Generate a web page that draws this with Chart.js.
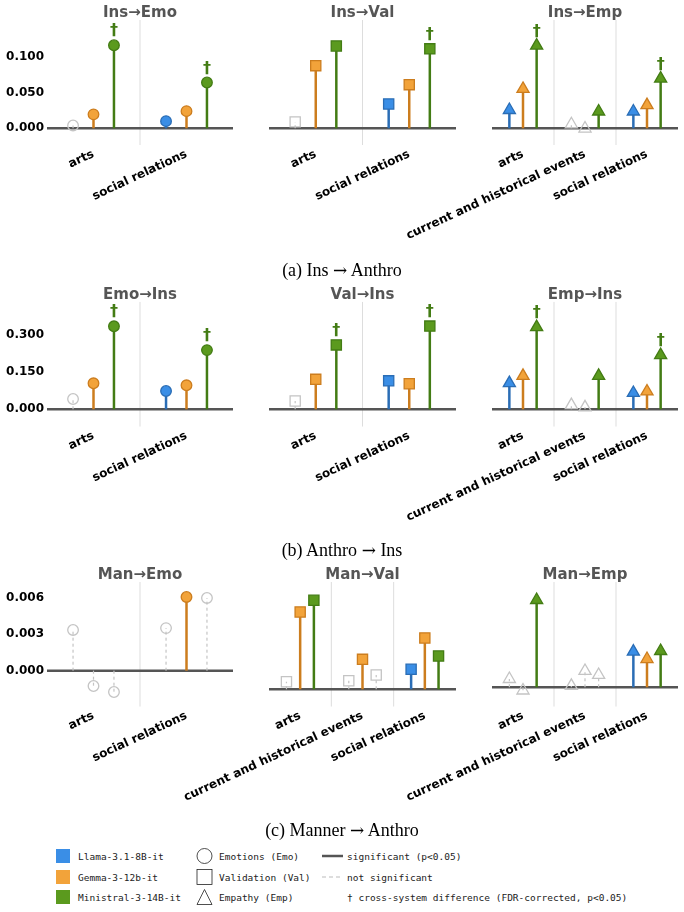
<!DOCTYPE html>
<html>
<head>
<meta charset="utf-8">
<script src="https://cdn.jsdelivr.net/npm/chart.js@4.4.0/dist/chart.umd.min.js"></script>
<style>
  body { margin: 0; background: #fff; width: 684px; height: 912px; position: relative; overflow: hidden; }
  canvas { position: absolute; left: 0; }
  .ttl { position: absolute; font: bold 15px "DejaVu Sans"; color: #555; transform: translate(-50%, -50%); white-space: nowrap; }
  .cap { position: absolute; left: 0; width: 684px; text-align: center; font: 18px "Liberation Serif"; color: #000; transform: translateY(-50%); }
  .cap .arr { font-family: "DejaVu Serif"; font-size: 17px; }
  .leg { position: absolute; font: 9.5px "DejaVu Sans Mono"; color: #222; white-space: nowrap; transform: translateY(-50%); }
  .sw { position: absolute; width: 14px; height: 14px; transform: translateY(-50%); }
  svg.ic { position: absolute; transform: translateY(-50%); overflow: visible; }
</style>
</head>
<body>
<script>
// models / categories
const models = ["Llama-3.1-8B-it", "Gemma-3-12b-it", "Ministral-3-14B-it"];
const cats2 = ["arts", "social relations"];
const cats3 = ["arts", "current and historical events", "social relations"];

// values per model (rows) per category (cols); sig = significant, dag = cross-system dagger
const insEmo    = [[0.004, 0.010], [0.0195, 0.024], [0.116, 0.064]];
const insEmoSig = [[0, 1], [1, 1], [1, 1]];
const insEmoDag = [[0, 0], [0, 0], [1, 1]];

const insVal    = [[0.009, 0.034], [0.0875, 0.061], [0.115, 0.111]];
const insValSig = [[0, 1], [1, 1], [1, 1]];
const insValDag = [[0, 0], [0, 0], [0, 1]];

const insEmp    = [[0.0256, 0.0057, 0.0235], [0.055, -0.0003, 0.0325], [0.1156, 0.0235, 0.0695]];
const insEmpSig = [[1, 0, 1], [1, 0, 1], [1, 1, 1]];
const insEmpDag = [[0, 0, 0], [0, 0, 0], [1, 0, 1]];

const emoIns    = [[0.0416, 0.074], [0.105, 0.097], [0.335, 0.239]];
const emoInsSig = [[0, 1], [1, 1], [1, 1]];
const emoInsDag = [[0, 0], [0, 0], [1, 1]];

const valIns    = [[0.0335, 0.115], [0.121, 0.103], [0.26, 0.336]];
const valInsSig = [[0, 1], [1, 1], [1, 1]];
const valInsDag = [[0, 0], [0, 0], [1, 1]];

const empIns    = [[0.106, 0.017, 0.066], [0.135, 0.008, 0.072], [0.332, 0.135, 0.219]];
const empInsSig = [[1, 0, 1], [1, 0, 1], [1, 1, 1]];
const empInsDag = [[0, 0, 0], [0, 0, 0], [1, 0, 1]];

const manEmo    = [[0.00335, 0.0035], [-0.00126, 0.00606], [-0.00175, 0.00598]];
const manEmoSig = [[0, 0], [0, 1], [0, 0]];

const manVal    = [[0.00061, 0.00069, 0.00161], [0.00622, 0.00241, 0.00413], [0.00716, 0.00115, 0.00268]];
const manValSig = [[0, 0, 1], [1, 1, 1], [1, 0, 1]];

const manEmp    = [[0.0006, 0.0001, 0.00258], [-0.00023, 0.00118, 0.00204], [0.0063, 0.00089, 0.00262]];
const manEmpSig = [[0, 0, 1], [0, 0, 1], [1, 0, 1]];

const none2 = [[0, 0], [0, 0], [0, 0]];
const none3 = [[0, 0, 0], [0, 0, 0], [0, 0, 0]];

// y axis ranges and ticks
const row1Range = [-0.0233, 0.1513], row1Ticks = [0, 0.05, 0.1];
const row2Range = [-0.0702, 0.4344], row2Ticks = [0, 0.15, 0.3];
const manEmoRange = [-0.00296, 0.00729], row3Ticks = [0, 0.003, 0.006];
const manValRange = [-0.0014, 0.00863];
const manEmpRange = [-0.0014, 0.0076];

// styles
const FILL = ["#3a8ee6", "#f2a33a", "#5b9a1e"];
const STEM = ["#2a6db5", "#cc7d1e", "#437c14"];
const GRAY = "#c4c4c4";
const OFFS = [-0.22, 0, 0.22];
const RAD = { circle: 5.3, rect: 7.2, triangle: 7 };
const COLS = [[47, 233], [269, 456], [492, 678]];
const ROWS = [{ top: 0, t: 20, b: 145 }, { top: 280, t: 301.7, b: 426.7 }, { top: 560, t: 582, b: 706.7 }];
const CANVAS_H = 260, X_H = 100, Y_W = 47;

const panels = [
  { title: "Ins→Emo", row: 0, col: 0, shape: "circle",   cats: cats2, vals: insEmo, sig: insEmoSig, dag: insEmoDag, range: row1Range, ticks: row1Ticks },
  { title: "Ins→Val", row: 0, col: 1, shape: "rect",     cats: cats2, vals: insVal, sig: insValSig, dag: insValDag, range: row1Range, ticks: row1Ticks },
  { title: "Ins→Emp", row: 0, col: 2, shape: "triangle", cats: cats3, vals: insEmp, sig: insEmpSig, dag: insEmpDag, range: row1Range, ticks: row1Ticks },
  { title: "Emo→Ins", row: 1, col: 0, shape: "circle",   cats: cats2, vals: emoIns, sig: emoInsSig, dag: emoInsDag, range: row2Range, ticks: row2Ticks },
  { title: "Val→Ins", row: 1, col: 1, shape: "rect",     cats: cats2, vals: valIns, sig: valInsSig, dag: valInsDag, range: row2Range, ticks: row2Ticks },
  { title: "Emp→Ins", row: 1, col: 2, shape: "triangle", cats: cats3, vals: empIns, sig: empInsSig, dag: empInsDag, range: row2Range, ticks: row2Ticks },
  { title: "Man→Emo", row: 2, col: 0, shape: "circle",   cats: cats2, vals: manEmo, sig: manEmoSig, dag: none2, range: manEmoRange, ticks: row3Ticks },
  { title: "Man→Val", row: 2, col: 1, shape: "rect",     cats: cats3, vals: manVal, sig: manValSig, dag: none3, range: manValRange, ticks: row3Ticks },
  { title: "Man→Emp", row: 2, col: 2, shape: "triangle", cats: cats3, vals: manEmp, sig: manEmpSig, dag: none3, range: manEmpRange, ticks: row3Ticks }
];

// draws the † above flagged points
const daggerPlugin = {
  id: "dagger",
  afterDatasetsDraw(chart, args, opts) {
    const { ctx, scales: { x, y } } = chart;
    ctx.save();
    ctx.font = "bold 16px 'DejaVu Sans'";
    ctx.fillStyle = STEM[2];
    ctx.textAlign = "center";
    ctx.textBaseline = "middle";
    (opts.marks || []).forEach(m => {
      ctx.fillText("†", x.getPixelForValue(m.x), y.getPixelForValue(m.y) - 14);
    });
    ctx.restore();
  }
};

function buildDatasets(p) {
  const ds = [];
  const [yMin, yMax] = p.range;
  for (let i = 0; i < p.cats.length - 1; i++) {
    ds.push({ data: [{ x: i + 0.5, y: yMin }, { x: i + 0.5, y: yMax }], borderColor: "#dddddd", borderWidth: 1, pointRadius: 0, order: 30 });
  }
  ds.push({ data: [{ x: -0.5, y: 0 }, { x: p.cats.length - 0.5, y: 0 }], borderColor: "#555555", borderWidth: 2.5, pointRadius: 0, order: 20 });
  models.forEach((m, k) => {
    p.cats.forEach((c, i) => {
      const v = p.vals[k][i];
      const sig = p.sig[k][i];
      const xv = i + OFFS[k];
      ds.push({
        label: m + " / " + c,
        data: [{ x: xv, y: 0 }, { x: xv, y: v }],
        borderColor: sig ? STEM[k] : GRAY,
        borderWidth: sig ? 2.5 : 1.2,
        borderDash: sig ? [] : [3, 3],
        pointRadius: [0, RAD[p.shape]],
        pointStyle: p.shape,
        pointBackgroundColor: sig ? FILL[k] : "rgba(0,0,0,0)",
        pointBorderColor: sig ? STEM[k] : GRAY,
        pointBorderWidth: 1.3,
        clip: false,
        order: 1
      });
    });
  });
  return ds;
}

panels.forEach(p => {
  const row = ROWS[p.row];
  const [l, r] = COLS[p.col];
  const showY = p.col === 0;
  const cv = document.createElement("canvas");
  cv.width = 684;
  cv.height = CANVAS_H;
  cv.style.top = row.top + "px";
  document.body.appendChild(cv);

  const t = document.createElement("div");
  t.className = "ttl";
  t.textContent = p.title;
  t.style.left = (l + r) / 2 + "px";
  t.style.top = (row.t - 8) + "px";
  document.body.appendChild(t);

  const marks = [];
  models.forEach((m, k) => p.cats.forEach((c, i) => {
    if (p.dag[k][i]) marks.push({ x: i + OFFS[k], y: p.vals[k][i] });
  }));

  const labelFont = { family: "DejaVu Sans", weight: "bold", size: 12 };
  new Chart(cv, {
    type: "line",
    data: { datasets: buildDatasets(p) },
    plugins: [daggerPlugin],
    options: {
      responsive: false,
      animation: false,
      events: [],
      layout: {
        autoPadding: false,
        padding: {
          left: l - (showY ? Y_W : 0),
          right: 684 - r,
          top: row.t - row.top,
          bottom: row.top + CANVAS_H - row.b - X_H
        }
      },
      plugins: { legend: { display: false }, tooltip: { enabled: false }, dagger: { marks } },
      scales: {
        x: {
          type: "linear",
          min: -0.5,
          max: p.cats.length - 0.5,
          grid: { display: false, drawTicks: false },
          border: { display: false },
          ticks: {
            autoSkip: false, minRotation: 25, maxRotation: 25, padding: 2,
            color: "#000", font: labelFont,
            callback: v => p.cats[v] ?? ""
          },
          afterBuildTicks: s => { s.ticks = p.cats.map((c, i) => ({ value: i })); },
          afterFit: s => { s.height = X_H; s.paddingLeft = 0; s.paddingRight = 0; }
        },
        y: {
          display: showY,
          min: p.range[0],
          max: p.range[1],
          grid: { display: false, drawTicks: false },
          border: { display: false },
          ticks: { padding: 3, color: "#000", font: labelFont, callback: v => v.toFixed(3) },
          afterBuildTicks: s => { s.ticks = p.ticks.map(v => ({ value: v })); },
          afterFit: s => { s.width = showY ? Y_W : 0; s.paddingTop = 0; s.paddingBottom = 0; }
        }
      }
    }
  });
});

// captions
[["(a) Ins", "Anthro", 270], ["(b) Anthro", "Ins", 550], ["(c) Manner", "Anthro", 830]].forEach(([a, b, y]) => {
  const d = document.createElement("div");
  d.className = "cap";
  d.append(a + " ");
  const arr = document.createElement("span");
  arr.className = "arr";
  arr.textContent = "→";
  d.append(arr, " " + b);
  d.style.top = y + "px";
  document.body.appendChild(d);
});

// legend
const legRows = [856, 876.5, 897];
models.forEach((m, k) => {
  const sw = document.createElement("div");
  sw.className = "sw";
  sw.style.left = "56px";
  sw.style.top = legRows[k] + "px";
  sw.style.background = FILL[k];
  document.body.appendChild(sw);
  const tx = document.createElement("div");
  tx.className = "leg";
  tx.style.left = "78px";
  tx.style.top = legRows[k] + "px";
  tx.textContent = m;
  document.body.appendChild(tx);
});
const shapeIcons = [
  '<circle cx="7.5" cy="7.5" r="7.5" fill="none" stroke="#222" stroke-width="0.8"/>',
  '<rect x="0" y="0" width="15" height="15" fill="none" stroke="#222" stroke-width="0.8"/>',
  '<polygon points="7.5,0 15,15 0,15" fill="none" stroke="#222" stroke-width="0.8"/>'
];
const shapeNames = ["Emotions (Emo)", "Validation (Val)", "Empathy (Emp)"];
shapeNames.forEach((n, k) => {
  const s = document.createElementNS("http://www.w3.org/2000/svg", "svg");
  s.setAttribute("class", "ic");
  s.setAttribute("width", "15");
  s.setAttribute("height", "15");
  s.style.left = "197px";
  s.style.top = legRows[k] + "px";
  s.innerHTML = shapeIcons[k];
  document.body.appendChild(s);
  const tx = document.createElement("div");
  tx.className = "leg";
  tx.style.left = "219px";
  tx.style.top = legRows[k] + "px";
  tx.textContent = n;
  document.body.appendChild(tx);
});
const lineIcons = [
  '<line x1="0" y1="3" x2="21" y2="3" stroke="#555" stroke-width="2.5"/>',
  '<line x1="0" y1="3" x2="21" y2="3" stroke="#bbb" stroke-width="1.2" stroke-dasharray="4,3"/>',
  ''
];
const lineNames = ["significant (p<0.05)", "not significant", "† cross-system difference (FDR-corrected, p<0.05)"];
lineNames.forEach((n, k) => {
  if (lineIcons[k]) {
    const s = document.createElementNS("http://www.w3.org/2000/svg", "svg");
    s.setAttribute("class", "ic");
    s.setAttribute("width", "21");
    s.setAttribute("height", "6");
    s.style.left = "322px";
    s.style.top = legRows[k] + "px";
    s.innerHTML = lineIcons[k];
    document.body.appendChild(s);
  }
  const tx = document.createElement("div");
  tx.className = "leg";
  tx.style.left = "347px";
  tx.style.top = legRows[k] + "px";
  tx.textContent = n;
  document.body.appendChild(tx);
});
</script>
</body>
</html>
